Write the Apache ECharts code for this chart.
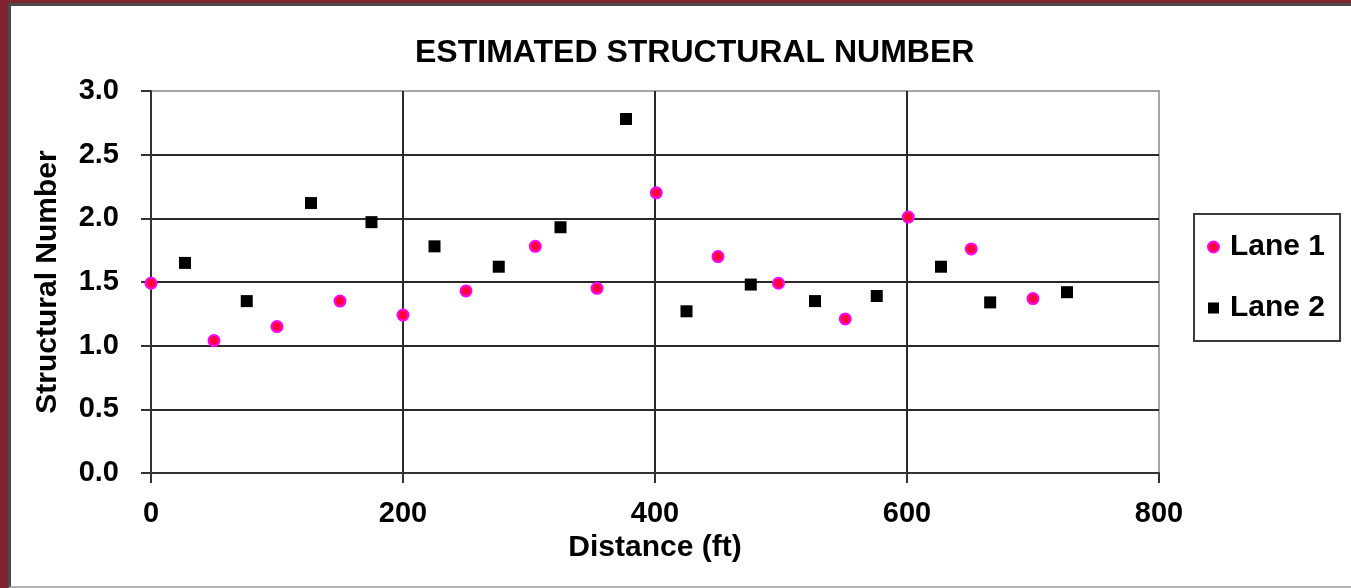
<!DOCTYPE html>
<html>
<head>
<meta charset="utf-8">
<script src="https://cdn.jsdelivr.net/npm/echarts@6/dist/echarts.min.js"></script>
<style>
  html, body { margin: 0; padding: 0; width: 1351px; height: 588px; overflow: hidden; background: #ffffff; }
  #frame { position: absolute; left: 0; top: 0; width: 1351px; height: 588px; background: #80242f; }
  #inner { position: absolute; left: 8px; top: 3px; width: 1343px; height: 585px; box-sizing: border-box;
           background: #ffffff; border-left: 3px solid #4a4a4a; border-top: 3px solid #4a4a4a; border-bottom: 2px solid #b0b0b0; }
  #chart { position: absolute; left: 0; top: 0; width: 1351px; height: 588px; }
</style>
</head>
<body>
<div id="frame"><div id="inner"></div></div>
<div id="chart"></div>
<script>
// ---- data ----
const titleText = 'ESTIMATED STRUCTURAL NUMBER';
const xAxisTitle = 'Distance (ft)';
const yAxisTitle = 'Structural Number';
const seriesNames = ['Lane 1', 'Lane 2'];

const lane1Distance = [0, 50, 100, 150, 200, 250, 305, 354, 401, 450, 498, 551, 601, 651, 700];
const lane1SN       = [1.49, 1.04, 1.15, 1.35, 1.24, 1.43, 1.78, 1.45, 2.20, 1.70, 1.49, 1.21, 2.01, 1.76, 1.37];

const lane2Distance = [27, 76, 127, 175, 225, 276, 325, 377, 425, 476, 527, 576, 627, 666, 727];
const lane2SN       = [1.65, 1.35, 2.12, 1.97, 1.78, 1.62, 1.93, 2.78, 1.27, 1.48, 1.35, 1.39, 1.62, 1.34, 1.42];

const xMin = 0, xMax = 800, xStep = 200;
const yMin = 0, yMax = 3, yStep = 0.5;

// ---- chart ----
const FONT = '"Liberation Sans", Arial, sans-serif';
const pairs = (xs, ys) => xs.map((x, i) => [x, ys[i]]);

const chart = echarts.init(document.getElementById('chart'), null, { renderer: 'canvas' });
chart.setOption({
  backgroundColor: 'transparent',
  animation: false,
  title: {
    text: titleText,
    left: 410,
    top: 32,
    padding: 5,
    textStyle: { fontFamily: FONT, fontSize: 32, fontWeight: 'bold', color: '#000' }
  },
  grid: {
    left: 151, right: 192, top: 91, bottom: 115,
    show: true, borderColor: '#a6a6a6', borderWidth: 2, backgroundColor: 'transparent'
  },
  legend: {
    orient: 'vertical',
    left: 1194, top: 214,
    padding: [18, 15, 18, 13],
    itemGap: 31,
    itemWidth: 11, itemHeight: 11,
    borderColor: '#3a3a3a', borderWidth: 2,
    backgroundColor: '#fff',
    textStyle: { fontFamily: FONT, fontSize: 30, fontWeight: 'bold', color: '#000', padding: [0, 0, 0, 6] },
    data: [
      { name: seriesNames[0], icon: 'circle' },
      { name: seriesNames[1], icon: 'rect' }
    ]
  },
  xAxis: {
    type: 'value',
    min: xMin, max: xMax, interval: xStep,
    name: xAxisTitle, nameLocation: 'middle', nameGap: 58,
    nameTextStyle: { fontFamily: FONT, fontSize: 30, fontWeight: 'bold', color: '#000' },
    axisLine: { show: true, onZero: false, lineStyle: { color: '#333', width: 2 } },
    axisTick: { show: true, length: 10, inside: false, lineStyle: { color: '#333', width: 2 } },
    axisLabel: { margin: 26, fontFamily: FONT, fontSize: 29, fontWeight: 'bold', color: '#000' },
    splitLine: { show: true, showMinLine: false, showMaxLine: false, lineStyle: { color: '#2a2a2a', width: 2 } }
  },
  yAxis: {
    type: 'value',
    min: yMin, max: yMax, interval: yStep,
    name: yAxisTitle, nameLocation: 'middle', nameGap: 88,
    nameTextStyle: { fontFamily: FONT, fontSize: 30, fontWeight: 'bold', color: '#000' },
    axisLine: { show: true, onZero: false, lineStyle: { color: '#333', width: 2 } },
    axisTick: { show: true, length: 10, inside: false, lineStyle: { color: '#333', width: 2 } },
    axisLabel: { margin: 32, fontFamily: FONT, fontSize: 29, fontWeight: 'bold', color: '#000',
                 formatter: v => v.toFixed(1) },
    splitLine: { show: true, showMinLine: false, showMaxLine: false, lineStyle: { color: '#2a2a2a', width: 2 } }
  },
  series: [
    {
      name: seriesNames[0], type: 'scatter',
      symbol: 'circle', symbolSize: 11,
      itemStyle: { color: '#ff0038', borderColor: '#ff00ff', borderWidth: 2, opacity: 1 },
      data: pairs(lane1Distance, lane1SN), z: 3
    },
    {
      name: seriesNames[1], type: 'scatter',
      symbol: 'rect', symbolSize: 12,
      itemStyle: { color: '#000000', opacity: 1 },
      data: pairs(lane2Distance, lane2SN), z: 3
    }
  ]
});
</script>
</body>
</html>
